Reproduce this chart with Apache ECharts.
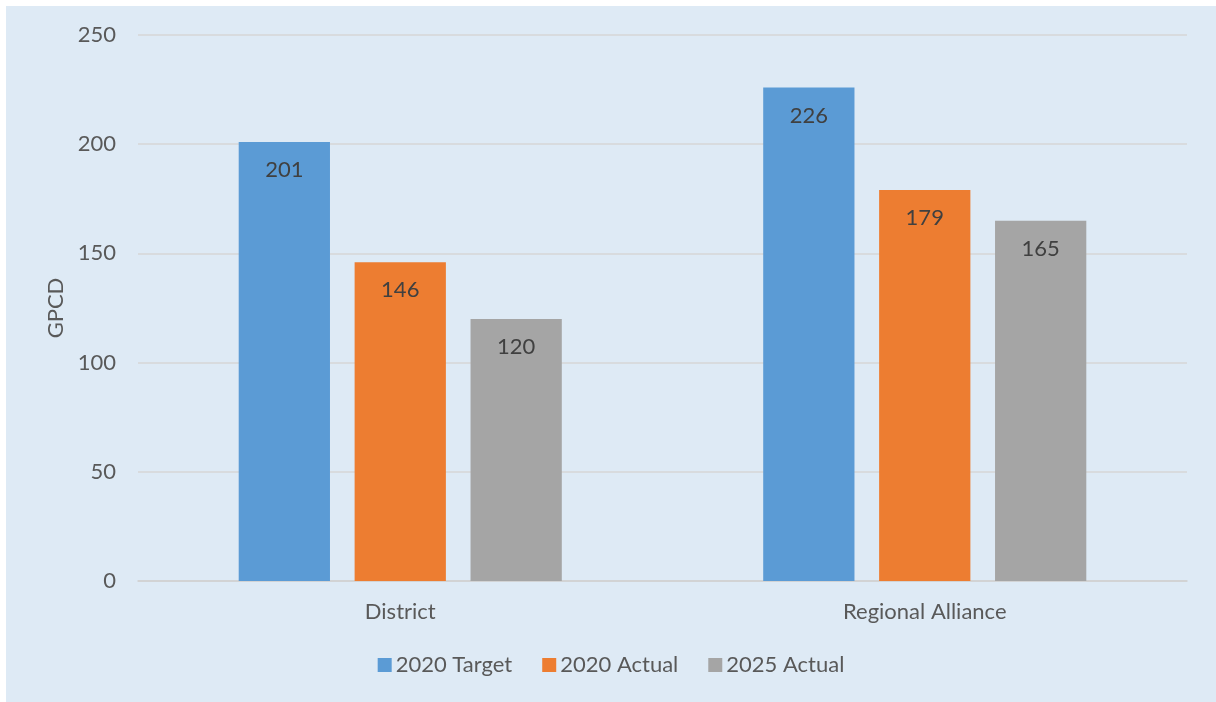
<!DOCTYPE html>
<html>
<head>
<meta charset="utf-8">
<script src="https://cdn.jsdelivr.net/npm/echarts@6/dist/echarts.min.js"></script>
<style>
  html, body { margin: 0; padding: 0; background: #ffffff; overflow: hidden; }
  #chart { position: absolute; left: 6px; top: 6px; width: 1210px; height: 696px; background: #DEEAF5; }
</style>
</head>
<body>
<div id="chart"></div>
<script>
// Gallons per capita per day by area
const categories = ['District', 'Regional Alliance'];
const seriesNames = ['2020 Target', '2020 Actual', '2025 Actual'];
const target2020 = [201, 226];
const actual2020 = [146, 179];
const actual2025 = [120, 165];
const colors = ['#5B9BD5', '#ED7D31', '#A5A5A5'];

const font = 'Lato, "Open Sans", sans-serif';
const textColor = '#595959';
const fontSize = 22;

const chart = echarts.init(document.getElementById('chart'), null, { renderer: 'canvas' });

function barSeries(name, data) {
  return {
    name: name,
    type: 'bar',
    data: data,
    barGap: '27%',
    barCategoryGap: '38.4%',
    label: {
      show: true,
      position: 'insideTop',
      distance: 17,
      color: '#404040',
      fontSize: fontSize,
      fontFamily: font
    }
  };
}

chart.setOption({
  backgroundColor: 'transparent',
  color: colors,
  animation: false,
  grid: { left: 132, right: 29, top: 29, bottom: 121 },
  legend: {
    bottom: 21,
    left: 'center',
    itemWidth: 14,
    itemHeight: 14,
    itemGap: 30,
    icon: 'rect',
    textStyle: { color: textColor, fontSize: fontSize, fontFamily: font, padding: [0, 0, 0, -1] },
    data: seriesNames
  },
  xAxis: {
    type: 'category',
    data: categories,
    axisLine: { lineStyle: { color: '#D0D0D0', width: 1.5 } },
    axisTick: { show: false },
    axisLabel: { color: textColor, fontSize: fontSize, fontFamily: font, margin: 20 }
  },
  yAxis: {
    type: 'value',
    min: 0,
    max: 250,
    interval: 50,
    name: 'GPCD',
    nameLocation: 'middle',
    nameGap: 70,
    nameRotate: 90,
    nameTextStyle: { color: textColor, fontSize: fontSize, fontFamily: font },
    axisLine: { show: false },
    axisTick: { show: false },
    axisLabel: { color: textColor, fontSize: fontSize, fontFamily: font, margin: 22 },
    splitLine: { lineStyle: { color: '#D6D6D6', width: 1.5 } }
  },
  series: [
    barSeries(seriesNames[0], target2020),
    barSeries(seriesNames[1], actual2020),
    barSeries(seriesNames[2], actual2025)
  ]
});
</script>
</body>
</html>
